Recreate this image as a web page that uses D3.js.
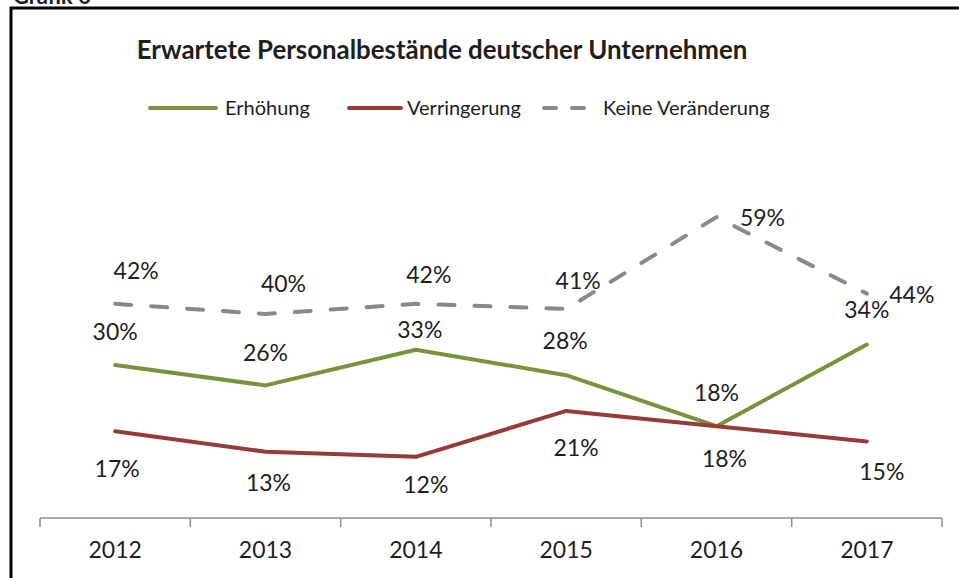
<!DOCTYPE html>
<html>
  <head>
    <meta charset="utf-8">
    <script type="text/javascript" src="https://d3js.org/d3.v7.min.js"></script>
    <title>Erwartete Personalbestände</title>
  </head>
  <style media="screen">
    body { margin: 0; background: #fff; }
    text { font-family: Lato, "Liberation Sans", sans-serif; fill: #1e1e1e; }
  </style>
  <body>

    <script type="text/javascript">

    // data
    var years = ["2012", "2013", "2014", "2015", "2016", "2017"];
    var erhoehung = [30, 26, 33, 28, 18, 34];
    var verringerung = [17, 13, 12, 21, 18, 15];
    var keineVeraenderung = [42, 40, 42, 41, 59, 44];
    var seriesNames = ["Erhöhung", "Verringerung", "Keine Veränderung"];

    var width = 959, height = 578;

    // label nudges (px), roughly where the labels sit in the original
    var labelShift = [
      [[0, -33], [0, -33], [4, -20], [-1, -34], [0, -33], [0, -35]],
      [[2, 37], [3, 31], [10, 28], [10, 37], [8, 33], [15, 30]],
      [[21, -33], [18, -30], [13, -29], [12, -28], [46, 1], [45, 1]]
    ];

    var series = [
      {name: seriesNames[0], values: erhoehung, color: "#77933c", dash: null},
      {name: seriesNames[1], values: verringerung, color: "#983a38", dash: null},
      {name: seriesNames[2], values: keineVeraenderung, color: "#898989", dash: "16,20"}
    ];

    var svg = d3.select("body").append("svg")
        .attr("width", width)
        .attr("height", height);

    // cut-off heading above the frame
    svg.append("text")
        .attr("x", 13)
        .attr("y", 4)
        .attr("font-size", 22)
        .attr("font-weight", "bold")
        .text("Grafik 6");

    // frame
    svg.append("path")
        .attr("d", "M11,578V8H959")
        .attr("fill", "none")
        .attr("stroke", "#000")
        .attr("stroke-width", 3);

    var x = d3.scaleBand().domain(years).range([40, 942]);
    var y = d3.scaleLinear().domain([0, 70]).range([518, 161]);

    var xAxis = d3.axisBottom(x).tickSize(0).tickPadding(24);

    var gx = svg.append("g")
        .attr("transform", "translate(0,518)")
        .call(xAxis);
    gx.select(".domain").remove();
    gx.selectAll("text")
        .attr("font-size", 23)
        .attr("font-family", "Lato, 'Liberation Sans', sans-serif")
        .attr("fill", "#1e1e1e");

    svg.append("line")
        .attr("x1", 40).attr("x2", 942)
        .attr("y1", 518).attr("y2", 518)
        .attr("stroke", "#8c8c8c")
        .attr("stroke-width", 1.5);

    // category boundary ticks
    var edges = years.map(function(d) { return x(d); }).concat([x(years[5]) + x.bandwidth()]);
    svg.selectAll(".edge")
        .data(edges)
      .enter().append("line")
        .attr("class", "edge")
        .attr("x1", function(d) { return d; })
        .attr("x2", function(d) { return d; })
        .attr("y1", 518).attr("y2", 527)
        .attr("stroke", "#8c8c8c")
        .attr("stroke-width", 1.5);

    var line = d3.line()
      .x(function(d, i) { return x(years[i]) + x.bandwidth() / 2; })
      .y(function(d) { return y(d); });

    // draw grey first so colored lines sit on top
    [2, 0, 1].forEach(function(k) {
      var s = series[k];
      svg.append("path")
          .datum(s.values)
          .attr("d", line)
          .attr("fill", "none")
          .attr("stroke", s.color)
          .attr("stroke-width", 4)
          .attr("stroke-linecap", "round")
          .attr("stroke-linejoin", "round")
          .attr("stroke-dasharray", s.dash);
    });

    series.forEach(function(s, k) {
      svg.selectAll(".lbl" + k)
          .data(s.values)
        .enter().append("text")
          .attr("class", "lbl" + k)
          .attr("x", function(d, i) { return x(years[i]) + x.bandwidth() / 2 + labelShift[k][i][0]; })
          .attr("y", function(d, i) { return y(d) + labelShift[k][i][1]; })
          .attr("dy", "0.36em")
          .attr("text-anchor", "middle")
          .attr("font-size", 23)
          .text(function(d) { return d + "%"; });
    });

    // title
    var title = svg.append("text")
        .attr("x", 442)
        .attr("y", 59)
        .attr("text-anchor", "middle")
        .attr("font-size", 24)
        .attr("font-weight", "bold")
        .attr("fill", "#000")
        .text("Erwartete Personalbestände deutscher Unternehmen");
    var tw = title.node().getComputedTextLength();
    title.attr("font-size", 24 * 611 / tw);

    // legend
    var legendPos = [[148, 218, 225], [347, 403, 407], [542, 587, 603]];
    series.forEach(function(s, k) {
      var p = legendPos[k];
      svg.append("line")
          .attr("x1", p[0] + 2).attr("x2", p[1] - 2)
          .attr("y1", 108).attr("y2", 108)
          .attr("stroke", s.color)
          .attr("stroke-width", 4)
          .attr("stroke-linecap", "round")
          .attr("stroke-dasharray", s.dash ? "12,16" : null);
      svg.append("text")
          .attr("x", p[2])
          .attr("y", 108)
          .attr("dy", "0.36em")
          .attr("font-size", 20)
          .text(s.name);
    });

    </script>

  </body>
</html>
